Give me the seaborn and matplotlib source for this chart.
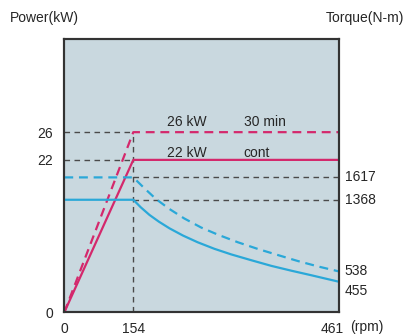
import numpy as np
import pandas as pd
import matplotlib
matplotlib.use("Agg")
import matplotlib.pyplot as plt
import matplotlib.transforms as mtransforms
import seaborn as sns

# ---------------- data ----------------
rpm_ticks = [0, 154, 461]
rpm_tick_labels = ["0", "154", "461"]
power_ticks = [0, 22, 26]
power_tick_labels = ["0", "22", "26"]

# power curves (kW)
power_rpm = [0, 154, 461]
power_cont = [0, 22, 22]
power_30min = [0, 26, 26]

# torque curves (N-m)
torque_rpm_cont = [0, 154, 165, 178, 192, 208, 228, 250, 275, 300, 330, 360, 390, 420, 461]
torque_cont = [1368, 1368, 1285, 1200, 1125, 1050, 970, 895, 822, 760, 695, 632, 578, 527, 455]
torque_rpm_30 = [0, 154, 170, 188, 208, 230, 255, 280, 310, 340, 370, 400, 430, 461]
torque_30 = [1617, 1617, 1500, 1375, 1265, 1160, 1060, 980, 895, 820, 752, 685, 625, 570]

torque_labels = ["1617", "1368", "538", "455"]
torque_label_vals = [1617, 1368, 570, 455]

power_text = ["26 kW", "22 kW"]
mode_text = ["30 min", "cont"]

# ---------------- style ----------------
sns.set_style("white")
plt.rcParams["font.family"] = ["Liberation Sans", "DejaVu Sans"]

RED = "#d4286c"
BLUE = "#2aa8d8"
GRAY = "#4a4a4a"
BG = "#c9d8df"
FS = 10

fig = plt.figure(figsize=(4.08, 3.36), dpi=100)
ax = fig.add_axes([0.1576, 0.0705, 0.6733, 0.8135])
ax.set_facecolor(BG)

# piecewise-linear rpm scale (154 rpm sits at one quarter of the width)
xp = np.array([0.0, 154.0, 461.0])
fp = np.array([0.0, 0.2512, 1.0])
def fwd(x):
    return np.interp(np.asarray(x, dtype=float), xp, fp)
def inv(y):
    return np.interp(np.asarray(y, dtype=float), fp, xp)
ax.set_xscale("function", functions=(fwd, inv))
ax.set_xlim(0, 461)
ax.set_ylim(0, 39.45)

ax2 = ax.twinx()
ax2.set_ylim(115, 3158)

# gray reference lines
dash_gray = dict(color=GRAY, lw=1.0, dashes=(4, 3.2))
ax.plot([0, power_rpm[1]], [power_30min[1]] * 2, **dash_gray)
ax.plot([0, power_rpm[1]], [power_cont[1]] * 2, **dash_gray)
ax.plot([power_rpm[1]] * 2, [0, power_30min[1]], **dash_gray)
ax2.plot([torque_rpm_30[1], torque_rpm_30[-1]], [torque_30[1]] * 2, **dash_gray)
ax2.plot([torque_rpm_cont[1], torque_rpm_cont[-1]], [torque_cont[1]] * 2, **dash_gray)

# power lines
df_p = pd.DataFrame({"rpm": power_rpm, "cont": power_cont, "m30": power_30min})
sns.lineplot(data=df_p, x="rpm", y="cont", ax=ax, color=RED, lw=1.6,
             estimator=None, sort=False)
sns.lineplot(data=df_p, x="rpm", y="m30", ax=ax, color=RED, lw=1.6,
             estimator=None, sort=False, linestyle=(0, (4, 2.6)))

# torque lines
df_tc = pd.DataFrame({"rpm": torque_rpm_cont, "t": torque_cont})
df_t3 = pd.DataFrame({"rpm": torque_rpm_30, "t": torque_30})
sns.lineplot(data=df_tc, x="rpm", y="t", ax=ax2, color=BLUE, lw=1.6,
             estimator=None, sort=False)
sns.lineplot(data=df_t3, x="rpm", y="t", ax=ax2, color=BLUE, lw=1.6,
             estimator=None, sort=False, linestyle=(0, (4, 2.6)))

# ticks
ax.set_xticks(rpm_ticks)
ax.set_xticklabels(rpm_tick_labels, fontsize=FS)
ax.set_yticks(power_ticks)
ax.set_yticklabels(power_tick_labels, fontsize=FS)
ax.tick_params(axis="x", length=0, pad=7)
ax.tick_params(axis="y", length=0, pad=8)
ax2.set_yticks([])
ax.set_xlabel("")
ax.set_ylabel("")
ax2.set_ylabel("")

# shift the last rpm label left and add the unit after it
last = ax.get_xticklabels()[-1]
last.set_transform(last.get_transform() + mtransforms.ScaledTranslation(-7 / 100, 0, fig.dpi_scale_trans))
ax.annotate("(rpm)", xy=(1.0, 0.0), xycoords="axes fraction", xytext=(8, -5.8),
            textcoords="offset points", ha="left", va="top", fontsize=FS)

# right torque labels
tr = mtransforms.blended_transform_factory(ax2.transAxes, ax2.transData)
offsets = [0, 0, 0, -7]
for lab, val, off in zip(torque_labels, torque_label_vals, offsets):
    ax2.annotate(lab, xy=(1.0, val), xycoords=tr, xytext=(4, off),
                 textcoords="offset points", ha="left", va="center", fontsize=FS)

# annotations inside
ax.text(204, 27.5, power_text[0], fontsize=FS, ha="left", va="center")
ax.text(319, 27.5, mode_text[0], fontsize=FS, ha="left", va="center")
ax.text(204, 23.05, power_text[1], fontsize=FS, ha="left", va="center")
ax.text(319, 23.05, mode_text[1], fontsize=FS, ha="left", va="center")

# axis titles
fig.text(10 / 408, 1 - 18 / 336, "Power(kW)", fontsize=FS, ha="left", va="center")
fig.text(404 / 408, 1 - 18 / 336, "Torque(N-m)", fontsize=FS, ha="right", va="center")

for a in (ax, ax2):
    for s in a.spines.values():
        s.set_color("#333333")
        s.set_linewidth(1.5)

fig.savefig("out.png", dpi=100)
